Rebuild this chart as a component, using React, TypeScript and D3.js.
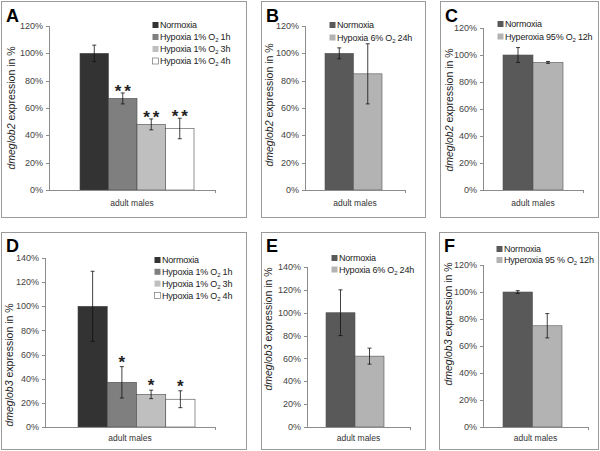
// @ts-nocheck
import * as d3 from "d3";
import React from "react";

const hypoxiaGroups = ["Normoxia", "Hypoxia 1% O2 1h", "Hypoxia 1% O2 3h", "Hypoxia 1% O2 4h"];
const valuesA = [100, 67, 48, 45];
const errorsA = [6, 4, 4, 7.5];
const starsA = ["", "**", "**", "**"];

const groupsB = ["Normoxia", "Hypoxia 6% O2 24h"];
const valuesB = [100, 85];
const errorsB = [4, 22];

const groupsC = ["Normoxia", "Hyperoxia 95% O2 12h"];
const valuesC = [100, 94.5];
const errorsC = [5.5, 0.7];

const valuesD = [100, 37, 27, 23];
const errorsD = [29, 13, 3.5, 7];
const starsD = ["", "*", "*", "*"];

const groupsE = ["Normoxia", "Hypoxia 6% O2 24h"];
const valuesE = [100, 62];
const errorsE = [20, 7];

const groupsF = ["Normoxia", "Hyperoxia 95 % O2 12h"];
const valuesF = [100, 75];
const errorsF = [1, 9];

const ticks120 = [0, 20, 40, 60, 80, 100, 120];
const ticks140 = [0, 20, 40, 60, 80, 100, 120, 140];

const fourColors = ["#333333", "#7f7f7f", "#bfbfbf", "#ffffff"];
const twoColors = ["#595959", "#b3b3b3"];

const font = "'Liberation Sans', Arial, sans-serif";

const Label = ({ text }) => {
  const parts = text.split("O2");
  if (parts.length < 2) return <>{text}</>;
  return (
    <>
      {parts[0]}O
      <tspan fontSize="6" dy="2">2</tspan>
      <tspan dy="-2">{parts[1]}</tspan>
    </>
  );
};

const Panel = ({ letter, gene, groups, values, errors, stars = [], ticks, colors, lay }) => {
  const y = d3.scaleLinear([0, d3.max(ticks)], [lay.y0, lay.yTop]);
  const x = d3.scaleBand(groups, [lay.barX0, lay.barX1]).padding(0);
  const [fx0, fy0, fx1, fy1] = lay.frame;
  return (
    <g fontFamily={font}>
      <rect x={fx0 + 0.5} y={fy0 + 0.5} width={fx1 - fx0} height={fy1 - fy0} fill="white" stroke="#9a9a9a" />
      <text x={lay.labelX} y={lay.labelY} fontSize="18" fontWeight="bold" fill="#000">{letter}</text>

      {/* y axis */}
      <line x1={lay.axisX + 0.5} x2={lay.axisX + 0.5} y1={lay.y0} y2={y(d3.max(ticks))} stroke="#8c8c8c" />
      {ticks.map((t) => (
        <g key={t}>
          <line x1={lay.axisX - 3} x2={lay.axisX} y1={Math.round(y(t)) + 0.5} y2={Math.round(y(t)) + 0.5} stroke="#8c8c8c" />
          <text x={lay.axisX - 6} y={y(t)} dy="0.35em" textAnchor="end" fontSize="9" fill="#444">{t}%</text>
        </g>
      ))}
      <text transform={`translate(${lay.titleX},${lay.titleY}) rotate(-90)`} textAnchor="middle" fontSize="10.5" fill="#222">
        <tspan fontStyle="italic">{gene}</tspan> expression in %
      </text>

      {/* bars */}
      {groups.map((g, i) => (
        <rect key={g} x={x(g)} y={y(values[i])} width={x.bandwidth()} height={lay.y0 - y(values[i])}
          fill={colors[i]} stroke={colors === fourColors ? "#4a4a4a" : "#555"} strokeWidth="0.6" />
      ))}

      {/* x axis */}
      <line x1={lay.axisX} x2={lay.axisEnd} y1={lay.y0 + 0.5} y2={lay.y0 + 0.5} stroke="#8c8c8c" />
      <line x1={lay.axisEnd + 0.5} x2={lay.axisEnd + 0.5} y1={lay.y0} y2={lay.y0 + 3} stroke="#8c8c8c" />
      <text x={(lay.axisX + lay.axisEnd) / 2} y={lay.xLabelY} textAnchor="middle" fontSize="8.5" fill="#333">adult males</text>

      {/* error bars */}
      {groups.map((g, i) => {
        const cx = x(g) + x.bandwidth() / 2;
        const lo = y(values[i] - errors[i]);
        const hi = y(values[i] + errors[i]);
        return (
          <g key={g} stroke="#111" strokeWidth="0.8">
            <line x1={cx} x2={cx} y1={lo} y2={hi} />
            <line x1={cx - 2} x2={cx + 2} y1={lo} y2={lo} />
            <line x1={cx - 2} x2={cx + 2} y1={hi} y2={hi} />
          </g>
        );
      })}

      {/* significance */}
      {groups.map((g, i) =>
        stars[i] ? (
          <text key={g} x={x(g) + x.bandwidth() / 2 + 1.5} y={y(values[i] + errors[i]) + lay.starOffset}
            textAnchor="middle" fontSize="17" fontWeight="bold" letterSpacing="3" fill="#222">{stars[i]}</text>
        ) : null
      )}

      {/* legend */}
      {groups.map((g, i) => (
        <g key={g} transform={`translate(${lay.legendX},${lay.legendY + i * lay.legendStep})`}>
          <rect x="0.5" y="-3" width="6" height="6" fill={colors[i]} stroke={colors[i] === "#ffffff" ? "#777" : "none"} strokeWidth="0.7" />
          <text x="8" y="0" dy="0.35em" fontSize="9" letterSpacing="-0.2" fill="#222"><Label text={g} /></text>
        </g>
      ))}
    </g>
  );
};

const layA = { frame: [1, 1, 246, 217], labelX: 6, labelY: 22, axisX: 49, y0: 190, yTop: 26, barX0: 80, barX1: 194, axisEnd: 215, titleX: 15, titleY: 108, xLabelY: 206, legendX: 152, legendY: 25, legendStep: 12, starOffset: 4 };
const layB = { frame: [261, 1, 425, 217], labelX: 266, labelY: 22, axisX: 305, y0: 190, yTop: 26, barX0: 325, barX1: 382, axisEnd: 405, titleX: 273, titleY: 105, xLabelY: 206, legendX: 329, legendY: 25, legendStep: 12.5, starOffset: 2 };
const layC = { frame: [440, 1, 598, 217], labelX: 445, labelY: 22, axisX: 483, y0: 190, yTop: 28, barX0: 503, barX1: 563, axisEnd: 583, titleX: 453, titleY: 110, xLabelY: 206, legendX: 497, legendY: 24, legendStep: 12.5, starOffset: 2 };
const layD = { frame: [1, 232, 246, 449], labelX: 6, labelY: 252, axisX: 45, y0: 427, yTop: 258, barX0: 78, barX1: 195, axisEnd: 215, titleX: 13, titleY: 365, xLabelY: 441, legendX: 154, legendY: 260, legendStep: 11.8, starOffset: 1 };
const layE = { frame: [261, 232, 425, 449], labelX: 266, labelY: 252, axisX: 307, y0: 427, yTop: 267, barX0: 326, barX1: 384, axisEnd: 410, titleX: 272, titleY: 329, xLabelY: 441, legendX: 331, legendY: 258, legendStep: 11.5, starOffset: 2 };
const layF = { frame: [439, 232, 598, 449], labelX: 444, labelY: 252, axisX: 483, y0: 427, yTop: 265, barX0: 503, barX1: 562, axisEnd: 588, titleX: 452, titleY: 324, xLabelY: 441, legendX: 496, legendY: 249, legendStep: 11, starOffset: 2 };

export default function App() {
  return (
    <svg width={600} height={451} style={{ position: "absolute", left: 0, top: 0, background: "white" }}>
      <rect width={600} height={451} fill="white" />
      <Panel letter="A" gene="dmeglob2" groups={hypoxiaGroups} values={valuesA} errors={errorsA} stars={starsA} ticks={ticks120} colors={fourColors} lay={layA} />
      <Panel letter="B" gene="dmeglob2" groups={groupsB} values={valuesB} errors={errorsB} ticks={ticks120} colors={twoColors} lay={layB} />
      <Panel letter="C" gene="dmeglob2" groups={groupsC} values={valuesC} errors={errorsC} ticks={ticks120} colors={twoColors} lay={layC} />
      <Panel letter="D" gene="dmeglob3" groups={hypoxiaGroups} values={valuesD} errors={errorsD} stars={starsD} ticks={ticks140} colors={fourColors} lay={layD} />
      <Panel letter="E" gene="dmeglob3" groups={groupsE} values={valuesE} errors={errorsE} ticks={ticks140} colors={twoColors} lay={layE} />
      <Panel letter="F" gene="dmeglob3" groups={groupsF} values={valuesF} errors={errorsF} ticks={ticks120} colors={twoColors} lay={layF} />
    </svg>
  );
}
